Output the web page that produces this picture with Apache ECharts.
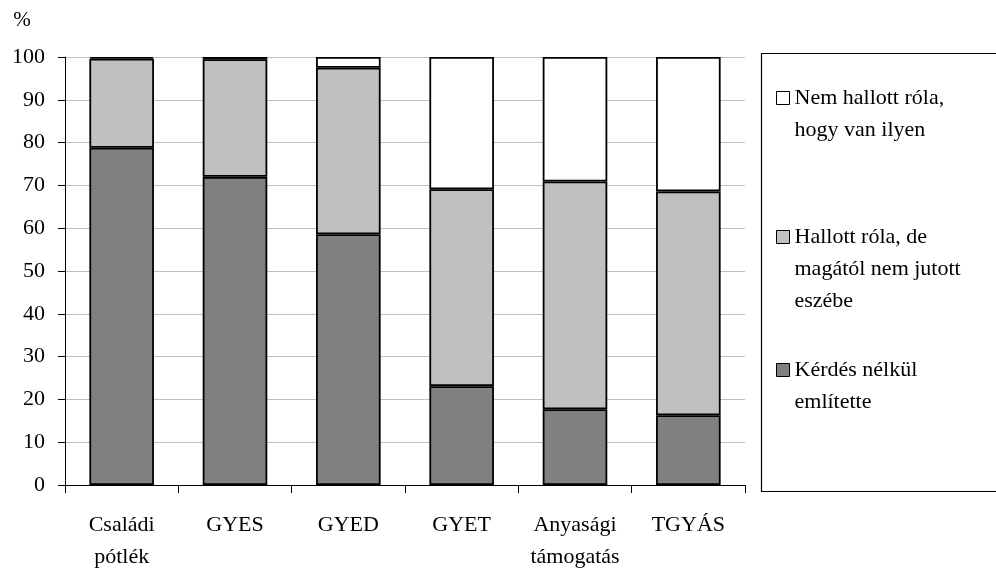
<!DOCTYPE html>
<html><head><meta charset="utf-8">
<script src="https://cdn.jsdelivr.net/npm/echarts@6/dist/echarts.min.js"></script>
<style>html,body{margin:0;padding:0;background:#fff}#c{width:996px;height:576px}</style>
</head><body><div id="c"></div>
<script>
var categories = ['Családi\npótlék', 'GYES', 'GYED', 'GYET', 'Anyasági\ntámogatás', 'TGYÁS'];
var kerdesNelkul = [78.8, 72.0, 58.6, 23.1, 17.7, 16.3];
var hallottRola = [20.8, 27.5, 38.9, 46.0, 53.2, 52.3];
var nemHallott = [0.4, 0.5, 2.5, 30.9, 29.1, 31.4];
var seriesNames = ['Kérdés nélkül említette', 'Hallott róla, de magától nem jutott eszébe', 'Nem hallott róla, hogy van ilyen'];
var legendLines = {
  'Nem hallott róla, hogy van ilyen': ['Nem hallott róla,', 'hogy van ilyen'],
  'Hallott róla, de magától nem jutott eszébe': ['Hallott róla, de', 'magától nem jutott', 'eszébe'],
  'Kérdés nélkül említette': ['Kérdés nélkül', 'említette']
};
var yTicks = {min: 0, max: 100, interval: 10};

var font = 'Liberation Serif';
var FS = 22, LH = 32;
var chart = echarts.init(document.getElementById('c'), null, {renderer: 'canvas'});
// firstLineY: vertical centre of the first text line
function leg(name, firstLineY) {
  var lines = legendLines[name];
  var blanks = lines.length - 1;
  var text = new Array(blanks + 1).join('\n') + lines.join('\n');
  return {
    data: [name], orient: 'vertical', left: 776, top: firstLineY - LH / 2 - blanks * LH,
    padding: 0, icon: 'rect',
    itemWidth: 13, itemHeight: 13, itemGap: 0, selectedMode: false,
    formatter: function () { return text; },
    itemStyle: {borderColor: '#000', borderWidth: 1},
    textStyle: {fontFamily: font, fontSize: FS, color: '#000', lineHeight: LH}
  };
}
var colors = ['#808080', '#c0c0c0', '#ffffff'];
var dataSets = [kerdesNelkul, hallottRola, nemHallott];
chart.setOption({
  animation: false,
  backgroundColor: '#fff',
  grid: {left: 65, right: 251, top: 57, bottom: 91, containLabel: false},
  graphic: [{type: 'rect', shape: {x: 761.5, y: 53.5, width: 240, height: 438}, style: {fill: 'none', stroke: '#000', lineWidth: 1.2}}],
  legend: [leg(seriesNames[2], 98), leg(seriesNames[1], 237), leg(seriesNames[0], 370)],
  xAxis: {
    type: 'category', data: categories,
    axisLine: {lineStyle: {color: '#000', width: 1}},
    axisTick: {show: true, length: 8, lineStyle: {color: '#000'}},
    axisLabel: {fontFamily: font, fontSize: FS, color: '#000', lineHeight: LH, margin: 24, interval: 0}
  },
  yAxis: {
    type: 'value', min: yTicks.min, max: yTicks.max, interval: yTicks.interval,
    name: '%', nameLocation: 'end', nameGap: 26,
    nameTextStyle: {fontFamily: font, fontSize: FS - 1, color: '#000', padding: [0, 86, 0, 0]},
    axisLine: {show: true, lineStyle: {color: '#000', width: 1}},
    axisTick: {show: true, length: 7, lineStyle: {color: '#000'}},
    axisLabel: {fontFamily: font, fontSize: FS, color: '#000', margin: 20},
    splitLine: {lineStyle: {color: '#c0c0c0', width: 1}}
  },
  series: seriesNames.map(function (n, i) {
    return {
      name: n, type: 'bar', stack: 'all', barWidth: '57%', data: dataSets[i],
      itemStyle: {color: colors[i], borderColor: '#000', borderWidth: 1.8}
    };
  })
});
</script></body></html>
